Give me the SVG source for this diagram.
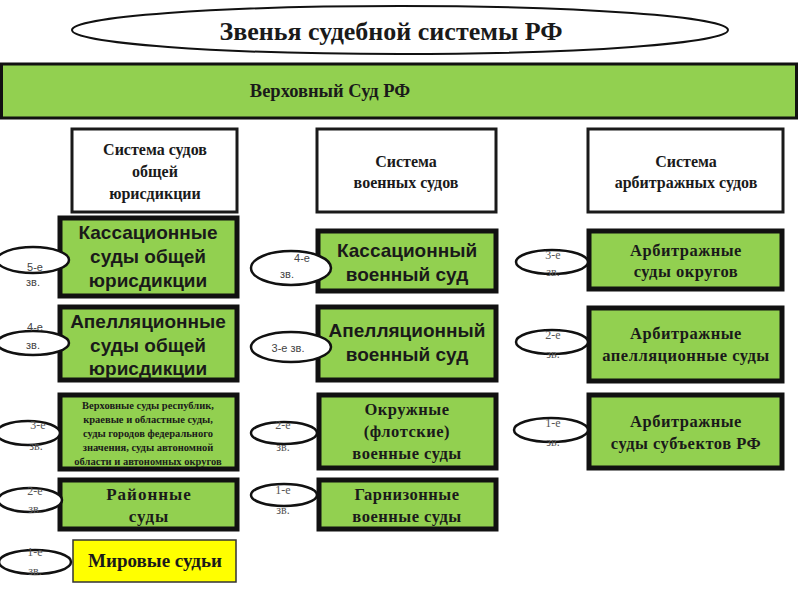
<svg xmlns="http://www.w3.org/2000/svg" width="800" height="600" viewBox="0 0 800 600">
<style>
.hdr{fill:#fff;stroke:#1a1a1a;stroke-width:3}
.g{fill:#92d050;stroke:#111;stroke-width:5}
.y{fill:#ffff00;stroke:#333;stroke-width:1.5}
.lvl{fill:#fff;stroke:#111;stroke-width:2.5}
.serif{font-family:"Liberation Serif","DejaVu Serif",serif;font-weight:bold;fill:#1a1a1a;text-anchor:middle}
.sans{font-family:"Liberation Sans",Arial,sans-serif;font-weight:bold;fill:#1a1a1a;text-anchor:middle;font-size:19px}
.lt{font-family:"Liberation Sans",Arial,sans-serif;fill:#444;text-anchor:middle;font-size:11px}
.lts{font-family:"Liberation Serif",serif;fill:#555;text-anchor:middle;font-size:12px}
.h{font-size:16px}
.b{font-size:16.5px;letter-spacing:0.5px}
</style>
<g id="title">
<ellipse cx="400" cy="30" rx="328" ry="24" fill="#fff" stroke="#111" stroke-width="2"/>
<text class="serif" x="391" y="40" font-size="26">Звенья судебной системы РФ</text>
</g>
<g id="supreme">
<rect x="1.5" y="64" width="795" height="54" fill="#92d050" stroke="#111" stroke-width="3"/>
<text class="serif" x="330" y="97" font-size="18.5">Верховный Суд РФ</text>
</g>
<g id="sys-general">
<rect class="hdr" x="72" y="129" width="165" height="83"/>
<text class="serif h" x="155" y="155">Система судов</text>
<text class="serif h" x="155" y="177">общей</text>
<text class="serif h" x="155" y="199">юрисдикции</text>
</g>
<g id="sys-military">
<rect class="hdr" x="317" y="129" width="179" height="83"/>
<text class="serif h" x="406" y="167">Система</text>
<text class="serif h" x="406" y="188">военных судов</text>
</g>
<g id="sys-arbitr">
<rect class="hdr" x="588" y="129" width="195" height="83"/>
<text class="serif h" x="686" y="167">Система</text>
<text class="serif h" x="686" y="188">арбитражных судов</text>
</g>
<g id="gen-cass">
<rect class="g" x="60" y="218" width="177" height="78"/>
<text class="sans" x="148" y="239">Кассационные</text>
<text class="sans" x="148" y="263">суды общей</text>
<text class="sans" x="148" y="287">юрисдикции</text>
</g>
<g id="gen-appeal">
<rect class="g" x="60" y="307" width="177" height="73"/>
<text class="sans" x="148" y="328">Апелляционные</text>
<text class="sans" x="148" y="352">суды общей</text>
<text class="sans" x="148" y="375">юрисдикции</text>
</g>
<g id="gen-regional">
<rect class="g" x="60" y="395" width="177" height="74"/>
<text class="serif" x="148" y="409" font-size="10.5">Верховные суды республик,</text>
<text class="serif" x="148" y="423" font-size="10.5">краевые и областные суды,</text>
<text class="serif" x="148" y="437" font-size="10.5">суды городов федерального</text>
<text class="serif" x="148" y="451" font-size="10.5">значения, суды автономной</text>
<text class="serif" x="148" y="465" font-size="10.5">области и автономных округов</text>
</g>
<g id="gen-district">
<rect class="g" x="60" y="480" width="177" height="49"/>
<text class="serif" x="149" y="500" font-size="17" letter-spacing="1">Районные</text>
<text class="serif" x="149" y="522" font-size="17" letter-spacing="1">суды</text>
</g>
<g id="gen-justices">
<rect class="y" x="73" y="540" width="163" height="42"/>
<text class="serif" x="155" y="567" font-size="19">Мировые судьи</text>
</g>
<g id="mil-cass">
<rect class="g" x="318" y="231" width="178" height="60"/>
<text class="sans" x="407" y="257">Кассационный</text>
<text class="sans" x="407" y="281">военный суд</text>
</g>
<g id="mil-appeal">
<rect class="g" x="318" y="307" width="178" height="73"/>
<text class="sans" x="407" y="337">Апелляционный</text>
<text class="sans" x="407" y="361">военный суд</text>
</g>
<g id="mil-district">
<rect class="g" x="319" y="395" width="177" height="73"/>
<text class="serif b" x="407" y="415">Окружные</text>
<text class="serif b" x="407" y="437">(флотские)</text>
<text class="serif b" x="407" y="459">военные суды</text>
</g>
<g id="mil-garrison">
<rect class="g" x="319" y="480" width="177" height="49"/>
<text class="serif b" x="407" y="500">Гарнизонные</text>
<text class="serif b" x="407" y="522">военные суды</text>
</g>
<g id="arb-district">
<rect class="g" x="589" y="231" width="193" height="58"/>
<text class="serif b" x="686" y="256">Арбитражные</text>
<text class="serif b" x="686" y="277">суды округов</text>
</g>
<g id="arb-appeal">
<rect class="g" x="589" y="308" width="193" height="73"/>
<text class="serif b" x="686" y="339">Арбитражные</text>
<text class="serif b" x="686" y="361">апелляционные суды</text>
</g>
<g id="arb-subject">
<rect class="g" x="589" y="395" width="193" height="73"/>
<text class="serif b" x="686" y="427">Арбитражные</text>
<text class="serif b" x="686" y="449">суды субъектов РФ</text>
</g>
<g id="levels">
<g id="lvl-g5"><ellipse class="lvl" cx="33" cy="260" rx="36" ry="13"/><text class="lt" x="35" y="271">5-е</text><text class="lt" x="33" y="286">зв.</text></g>
<g id="lvl-g4"><ellipse class="lvl" cx="33" cy="343" rx="36" ry="12"/><text class="lt" x="35" y="331">4-е</text><text class="lt" x="33" y="349">зв.</text></g>
<g id="lvl-g3"><ellipse class="lvl" cx="28" cy="433" rx="32" ry="12"/><text class="lts" x="38" y="429">3-е</text><text class="lts" x="36" y="450">зв.</text></g>
<g id="lvl-g2"><ellipse class="lvl" cx="30" cy="500" rx="32" ry="12"/><text class="lts" x="35" y="495">2-е</text><text class="lts" x="35" y="513">зв.</text></g>
<g id="lvl-g1"><ellipse class="lvl" cx="35" cy="562" rx="36" ry="12"/><text class="lts" x="35" y="556">1-е</text><text class="lts" x="35" y="575">зв.</text></g>
<g id="lvl-m4"><ellipse class="lvl" cx="291" cy="268" rx="40" ry="17"/><text class="lt" x="302" y="262">4-е</text><text class="lt" x="287" y="278">зв.</text></g>
<g id="lvl-m3"><ellipse class="lvl" cx="291" cy="347" rx="40" ry="15"/><text class="lt" x="288" y="352">3-е зв.</text></g>
<g id="lvl-m2"><ellipse class="lvl" cx="284" cy="433" rx="33" ry="11"/><text class="lts" x="283" y="429">2-е</text><text class="lts" x="283" y="451">зв.</text></g>
<g id="lvl-m1"><ellipse class="lvl" cx="284" cy="495" rx="33" ry="11"/><text class="lts" x="283" y="494">1-е</text><text class="lts" x="283" y="514">зв.</text></g>
<g id="lvl-a3"><ellipse class="lvl" cx="552" cy="262" rx="36" ry="12"/><text class="lts" x="553" y="259">3-е</text><text class="lts" x="553" y="276">зв.</text></g>
<g id="lvl-a2"><ellipse class="lvl" cx="552" cy="342" rx="36" ry="12"/><text class="lts" x="553" y="339">2-е</text><text class="lts" x="553" y="358">зв.</text></g>
<g id="lvl-a1"><ellipse class="lvl" cx="551" cy="430" rx="37" ry="12"/><text class="lts" x="553" y="427">1-е</text><text class="lts" x="553" y="446">зв.</text></g>
</g>
</svg>
